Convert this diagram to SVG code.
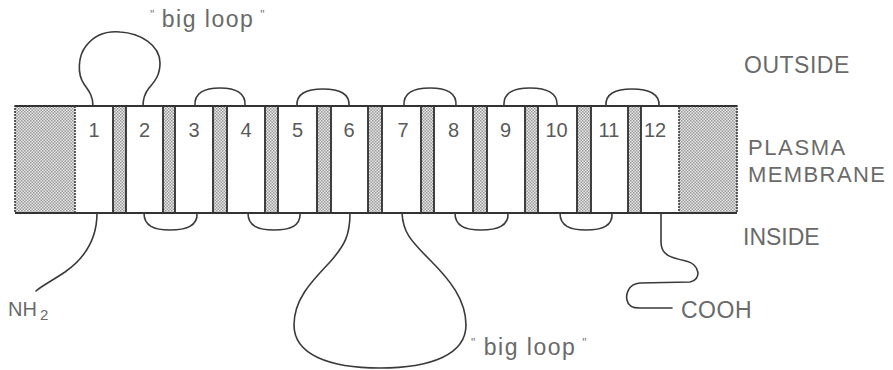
<svg xmlns="http://www.w3.org/2000/svg" width="893" height="370" viewBox="0 0 893 370">
<defs>
<pattern id="stip" width="3" height="3" patternUnits="userSpaceOnUse">
<rect width="3" height="3" fill="#e6e6e6"/>
<rect x="0" y="0" width="1.5" height="1.5" fill="#9c9c9c"/>
<rect x="1.5" y="1.5" width="1.5" height="1.5" fill="#9c9c9c"/>
</pattern>
</defs>
<style>
.blk{fill:url(#stip);stroke:#3a3a3a;stroke-width:1.6;stroke-dasharray:2 1}
.strip{fill:url(#stip);stroke:#2e2e2e;stroke-width:1.8}
.num{font-family:"Liberation Sans",Arial,sans-serif;font-size:20px;fill:#5a5a5a;text-anchor:middle}
.lbl{font-family:"Liberation Sans",Arial,sans-serif;font-size:23px;fill:#6a6a6a}
.q{font-size:12px;fill:#777}
.ln{fill:none;stroke:#3a3a3a;stroke-width:1.6;stroke-linecap:round}
.edge{fill:none;stroke:#333;stroke-width:1.8}
</style>
<rect width="893" height="370" fill="#fff"/>

<g id="membrane">
<rect x="15" y="106" width="722" height="107" fill="#fff"/>
<rect class="blk" x="15" y="106" width="60" height="107"/>
<rect class="blk" x="679" y="106" width="58" height="107"/>
<rect class="strip" x="113" y="106" width="13" height="107"/>
<rect class="strip" x="163" y="106" width="12" height="107"/>
<rect class="strip" x="213" y="106" width="14" height="107"/>
<rect class="strip" x="265" y="106" width="13" height="107"/>
<rect class="strip" x="317" y="106" width="14" height="107"/>
<rect class="strip" x="368" y="106" width="14" height="107"/>
<rect class="strip" x="421" y="106" width="13" height="107"/>
<rect class="strip" x="473" y="106" width="14" height="107"/>
<rect class="strip" x="525" y="106" width="13" height="107"/>
<rect class="strip" x="577" y="106" width="14" height="107"/>
<rect class="strip" x="628" y="106" width="13" height="107"/>
<line class="edge" x1="15" y1="106" x2="737" y2="106"/>
<line class="edge" x1="15" y1="213" x2="737" y2="213"/>
</g>

<g id="helix-1"><text class="num" x="94" y="137">1</text></g>
<g id="helix-2"><text class="num" x="144.5" y="137">2</text></g>
<g id="helix-3"><text class="num" x="194" y="137">3</text></g>
<g id="helix-4"><text class="num" x="246" y="137">4</text></g>
<g id="helix-5"><text class="num" x="297.5" y="137">5</text></g>
<g id="helix-6"><text class="num" x="349" y="137">6</text></g>
<g id="helix-7"><text class="num" x="403" y="137">7</text></g>
<g id="helix-8"><text class="num" x="453.5" y="137">8</text></g>
<g id="helix-9"><text class="num" x="505.5" y="137">9</text></g>
<g id="helix-10"><text class="num" x="556.5" y="137">10</text></g>
<g id="helix-11"><text class="num" x="609" y="137">11</text></g>
<g id="helix-12"><text class="num" x="655" y="137">12</text></g>

<g id="connectors">
<path class="ln" d="M93,106 C93,95 88,90 84,84 C77,74 78,56 86,46 C96,33 108,31 120,32 C140,33 160,45 160,63 C160,77 153,83 149,88 C145,93 143,98 143,106"/>
<path class="ln" d="M195,106 C194,93 204,88 220,88 C236,88 246,93 245,106"/>
<path class="ln" d="M297,106 C296,94 306,89 323,89 C340,89 350,94 349,106"/>
<path class="ln" d="M404,106 C403,93 413,88 430,88 C447,88 457,93 456,106"/>
<path class="ln" d="M504,106 C503,93 513,88 530,88 C547,88 558,93 557,106"/>
<path class="ln" d="M606,106 C605,94 615,89 632,89 C649,89 660,94 659,106"/>
<path class="ln" d="M144,213 C144,226 154,230 170,230 C186,230 198,226 197,213"/>
<path class="ln" d="M248,213 C248,226 258,230 274,230 C290,230 301,226 300,213"/>
<path class="ln" d="M455,213 C455,226 465,230 481,230 C497,230 509,226 508,213"/>
<path class="ln" d="M560,213 C560,226 570,230 586,230 C602,230 613,226 612,213"/>
<path class="ln" d="M350,213 C350,235 345,245 330,262 C310,283 294,300 294,325 C294,355 330,368 380,368 C430,368 466,355 466,325 C466,300 450,280 430,260 C410,240 403,232 402,213"/>
<path class="ln" d="M97,213 C97,240 85,258 65,272 C50,282 40,287 36,291"/>
<path class="ln" d="M661,213 L661,242 C661,256 672,258 686,261 C700,264 702,280 690,282 L640,283 C627,284 626,296 627,300 C628,306 632,308 640,308 L672,308"/>
</g>

<g id="labels">
<text class="lbl" x="150" y="27" style="letter-spacing:1.5px"><tspan class="q" dy="-8">"</tspan><tspan dy="8" dx="6">big loop</tspan><tspan class="q" dx="6" dy="-8">"</tspan></text>
<text class="lbl" x="471" y="355" style="letter-spacing:1.5px"><tspan class="q" dy="-8">"</tspan><tspan dy="8" dx="7">big loop</tspan><tspan class="q" dx="6" dy="-8">"</tspan></text>
<text class="lbl" x="744" y="73" style="letter-spacing:0.5px">OUTSIDE</text>
<text class="lbl" x="748" y="155" style="font-size:22px;letter-spacing:1.6px">PLASMA</text>
<text class="lbl" x="748" y="182" style="font-size:22px;letter-spacing:1.4px">MEMBRANE</text>
<text class="lbl" x="743" y="245">INSIDE</text>
<text class="lbl" x="681" y="318" style="letter-spacing:0.5px">COOH</text>
<text class="lbl" x="8" y="316" style="font-size:20px">NH<tspan style="font-size:15px" dx="3" dy="4">2</tspan></text>
</g>
</svg>
